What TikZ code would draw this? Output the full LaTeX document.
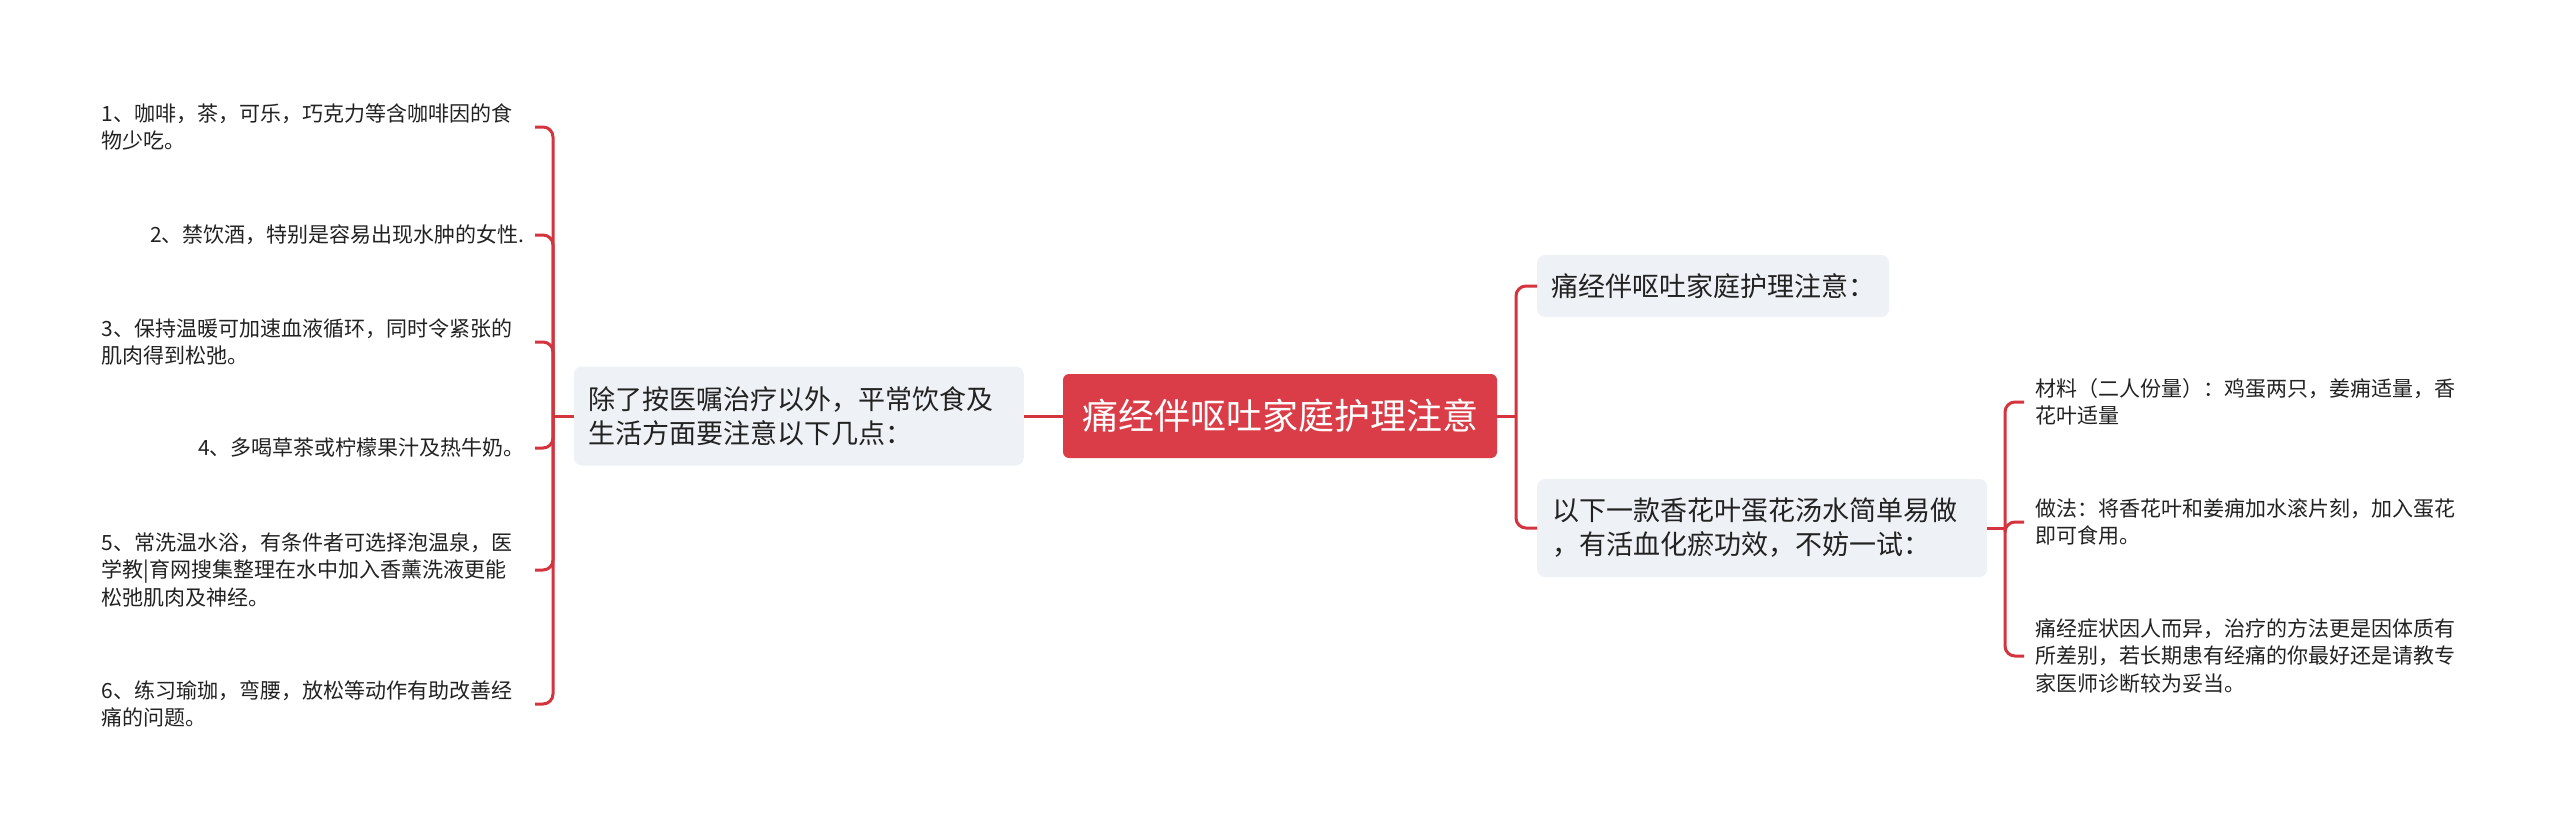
\documentclass[tikz,border=0pt]{standalone}
\usepackage{fontspec}
\setmainfont{Noto Sans CJK SC}
\usepackage{tikz}
\usetikzlibrary{calc}

\definecolor{mapred}{RGB}{218,61,71}
\definecolor{linered}{RGB}{211,52,62}
\definecolor{topicgray}{RGB}{238,241,245}
\definecolor{inktext}{RGB}{34,34,34}

\begin{document}
\begin{tikzpicture}[x=1pt, y=-1pt,
    hub/.style={fill=mapred, text=white, rounded corners=6pt,
        minimum width=434pt, minimum height=84pt, inner sep=0pt,
        font=\fontsize{36pt}{44pt}\selectfont},
    topic/.style={fill=topicgray, text=inktext, rounded corners=8pt,
        inner xsep=15pt, inner ysep=0pt, align=left,
        font=\fontsize{27pt}{34pt}\selectfont},
    leaf/.style={text=inktext, inner xsep=10pt, align=left,
        font=\fontsize{21pt}{27.5pt}\selectfont},
    branch/.style={linered, line width=3pt, rounded corners=10pt}]

% Canvas
\fill[white] (0, 0) rectangle (2560, 833);
\useasboundingbox (0, 0) rectangle (2560, 833);

% Central topic
\node[hub] (hub) at (1280, 416) {痛经伴呕吐家庭护理注意};

% Left topic and its points
\node[topic, anchor=east, text width=420pt, minimum height=99pt] (care) at (1024, 416)
    {除了按医嘱治疗以外，平常饮食及\\生活方面要注意以下几点：};

\node[leaf, anchor=east, text width=423pt] (l1) at (535, 127)
    {1、咖啡，茶，可乐，巧克力等含咖啡因的食\\物少吃。};
\node[leaf, anchor=east] (l2) at (535, 235)
    {2、禁饮酒，特别是容易出现水肿的女性.};
\node[leaf, anchor=east, text width=423pt] (l3) at (535, 342)
    {3、保持温暖可加速血液循环，同时令紧张的\\肌肉得到松弛。};
\node[leaf, anchor=east] (l4) at (535, 448)
    {4、多喝草茶或柠檬果汁及热牛奶。};
\node[leaf, anchor=east, text width=423pt] (l5) at (535, 570)
    {5、常洗温水浴，有条件者可选择泡温泉，医\\学教|育网搜集整理在水中加入香薰洗液更能\\松弛肌肉及神经。};
\node[leaf, anchor=east, text width=423pt] (l6) at (535, 704)
    {6、练习瑜珈，弯腰，放松等动作有助改善经\\痛的问题。};

% Right topics
\node[topic, anchor=west, inner xsep=14pt, minimum height=62pt] (note) at (1537, 286)
    {痛经伴呕吐家庭护理注意：};
\node[topic, anchor=west, text width=420pt, minimum height=98pt] (soup) at (1537, 528)
    {以下一款香花叶蛋花汤水简单易做\\，有活血化瘀功效，不妨一试：};

% Soup details
\node[leaf, anchor=west, inner xsep=11pt, text width=422pt] (r1) at (2024, 402)
    {材料（二人份量）：鸡蛋两只，姜痈适量，香\\花叶适量};
\node[leaf, anchor=west, inner xsep=11pt, text width=422pt] (r2) at (2024, 522)
    {做法：将香花叶和姜痈加水滚片刻，加入蛋花\\即可食用。};
\node[leaf, anchor=west, inner xsep=11pt, text width=422pt] (r3) at (2024, 656)
    {痛经症状因人而异，治疗的方法更是因体质有\\所差别，若长期患有经痛的你最好还是请教专\\家医师诊断较为妥当。};

% Junctions
\coordinate (lj) at (553, 416);
\coordinate (rj) at (1516, 416);
\coordinate (sj) at (2005, 528);

% Connectors
\draw[branch] (hub.west) -- (care.east);
\draw[branch] (care.west) -- (lj);
\foreach \i in {1,...,6}
    \draw[branch] (lj) |- (l\i.east);

\draw[branch] (hub.east) -- (rj);
\draw[branch] (rj) |- (note.west);
\draw[branch] (rj) |- (soup.west);

\draw[branch] (soup.east) -- (sj);
\foreach \i in {1,2,3}
    \draw[branch] (sj) |- (r\i.west);

\end{tikzpicture}
\end{document}
